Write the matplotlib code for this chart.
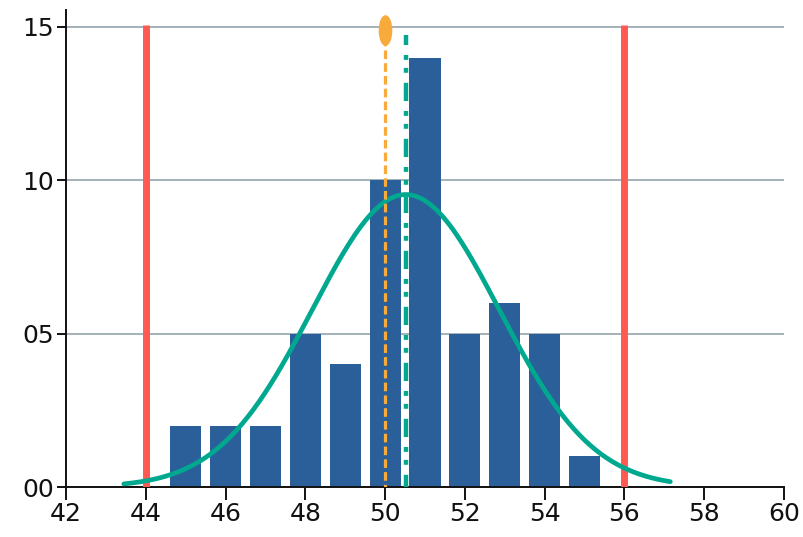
import matplotlib.pyplot as plt
from matplotlib.markers import MarkerStyle
from matplotlib.transforms import Affine2D
import numpy as np

# histogram data
bin_centers = [45, 46, 47, 48, 49, 50, 51, 52, 53, 54, 55]
counts = [2, 2, 2, 5, 4, 10, 14, 5, 6, 5, 1]

lsl = 44
usl = 56
target = 50
curve_start = 43.45
curve_end = 57.15

x_ticks = [42, 44, 46, 48, 50, 52, 54, 56, 58, 60]
y_ticks = [0, 5, 10, 15]

# fitted normal from the counts
vals = np.repeat(bin_centers, counts)
mean = vals.mean()
std = vals.std(ddof=1)
xs = np.linspace(curve_start, curve_end, 300)
ys = len(vals) * 1.0 / (std * np.sqrt(2 * np.pi)) * np.exp(-(xs - mean) ** 2 / (2 * std ** 2))

fig = plt.figure(figsize=(8.04, 5.37), dpi=100)
ax = fig.add_axes([0.0821, 0.0931, 0.893, 0.8883])

ax.grid(axis='y', color='#9eabb3', linewidth=1.3, zorder=0)
ax.set_axisbelow(True)

ax.bar(bin_centers, counts, width=0.78, color='#2a5f9a', zorder=2)

ax.plot(xs, ys, color='#00a88f', linewidth=3.4, solid_capstyle='round', zorder=4)

for lim in [lsl, usl]:
    ax.plot([lim, lim], [-0.15, 15.05], color='#ff5a52', linewidth=5, solid_capstyle='butt', zorder=3)

ax.plot([target, target], [-0.2, 14.9], color='#f9aa3c', linewidth=2.3, dashes=(2.7, 1.3), zorder=5)
oval = MarkerStyle('o', transform=Affine2D().scale(0.42, 1.0))
ax.plot([target], [14.9], marker=oval, markersize=21, color='#f9aa3c', linestyle='none', zorder=6)

ax.plot([mean, mean], [-0.2, 14.75], color='#00a88f', linewidth=3.2,
        dashes=(4.1, 2.25, 1.1, 1.8, 1.1, 2.25), dash_capstyle='butt', zorder=5)

ax.set_xlim(42, 60)
ax.set_ylim(0, 15.55)
ax.set_xticks(x_ticks)
ax.set_yticks(y_ticks)
ax.set_yticklabels(['%02d' % v for v in y_ticks])

for s in ['top', 'right']:
    ax.spines[s].set_visible(False)
for s in ['left', 'bottom']:
    ax.spines[s].set_linewidth(1.4)
    ax.spines[s].set_color('#111111')

ax.tick_params(axis='x', length=9, width=1.4, labelsize=18, colors='#111111', pad=2)
ax.tick_params(axis='y', length=6.5, width=1.4, labelsize=18, colors='#111111', pad=2)

fig.savefig('out.png', dpi=100)
